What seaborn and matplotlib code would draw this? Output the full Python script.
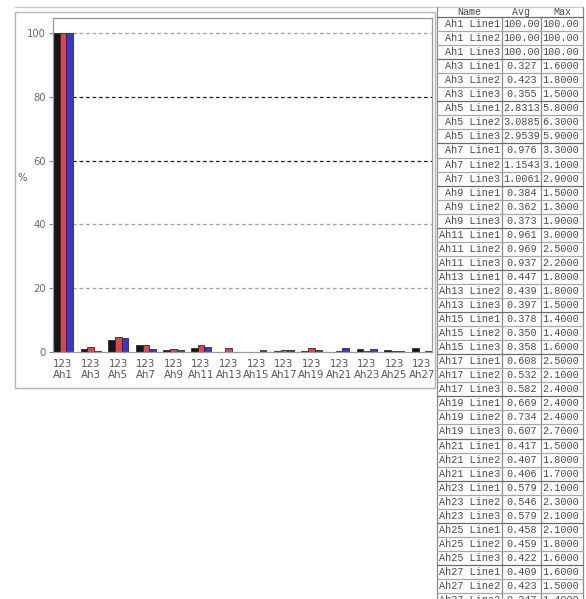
import matplotlib
matplotlib.use("Agg")
import matplotlib.pyplot as plt
import seaborn as sns
import pandas as pd
from matplotlib.lines import Line2D
from matplotlib.patches import Rectangle

# ---------------- data ----------------
harmonics = ["Ah1", "Ah3", "Ah5", "Ah7", "Ah9", "Ah11", "Ah13",
             "Ah15", "Ah17", "Ah19", "Ah21", "Ah23", "Ah25", "Ah27"]
lines = ["Line1", "Line2", "Line3"]

bar_line1 = [100, 0.85, 3.7, 2.2, 0.7, 1.4, 0.1, 0.1, 0.4, 0.2, 0.1, 1.0, 0.7, 1.3]
bar_line2 = [100, 1.5, 4.7, 2.2, 1.0, 2.2, 1.3, 0.1, 0.6, 1.3, 0.2, 0.2, 0.2, 0.1]
bar_line3 = [100, 0.3, 4.4, 1.0, 0.7, 1.5, 0.1, 0.7, 0.6, 0.6, 1.4, 0.9, 0.2, 0.2]

avg_line1 = ["100.00", "0.327", "2.8313", "0.976", "0.384", "0.961", "0.447",
             "0.378", "0.608", "0.669", "0.417", "0.579", "0.458", "0.409"]
avg_line2 = ["100.00", "0.423", "3.0885", "1.1543", "0.362", "0.969", "0.439",
             "0.350", "0.532", "0.734", "0.407", "0.546", "0.459", "0.423"]
avg_line3 = ["100.00", "0.355", "2.9539", "1.0061", "0.373", "0.937", "0.397",
             "0.358", "0.582", "0.607", "0.406", "0.579", "0.422", "0.347"]
max_line1 = ["100.00", "1.6000", "5.8000", "3.3000", "1.5000", "3.0000", "1.8000",
             "1.4000", "2.5000", "2.4000", "1.5000", "2.1000", "2.1000", "1.6000"]
max_line2 = ["100.00", "1.8000", "6.3000", "3.1000", "1.3000", "2.5000", "1.8000",
             "1.4000", "2.1000", "2.4000", "1.8000", "2.3000", "1.8000", "1.5000"]
max_line3 = ["100.00", "1.5000", "5.9000", "2.9000", "1.9000", "2.2000", "1.5000",
             "1.6000", "2.4000", "2.7000", "1.7000", "2.1000", "1.6000", "1.4000"]

table_header = ["Name", "Avg", "Max"]
y_ticks = [0, 20, 40, 60, 80, 100]

# ---------------- figure ----------------
W, H = 586, 599
sns.set_style("white")
plt.rcParams["font.family"] = ["DejaVu Sans"]
fig = plt.figure(figsize=(W / 100, H / 100), dpi=100)


def fx(x):
    return x / W


def fy(y):
    return 1 - y / H


# outer frame of chart panel
fig.add_artist(Rectangle((fx(15), fy(388)), fx(435) - fx(15), fy(12) - fy(388),
                         transform=fig.transFigure, fill=False,
                         edgecolor="#b5b5b5", linewidth=1.0))
fig.add_artist(Line2D([fx(15), fx(583)], [fy(7), fy(7)], transform=fig.transFigure,
                      color="#c8c8c8", linewidth=0.9))

ax = fig.add_axes([fx(53), fy(352), fx(432) - fx(53), fy(18) - fy(352)])

rows = []
for vals, ln in zip([bar_line1, bar_line2, bar_line3], lines):
    for h, v in zip(harmonics, vals):
        rows.append({"harmonic": h, "line": ln, "value": v})
df = pd.DataFrame(rows)

palette = {"Line1": "#151515", "Line2": "#d84848", "Line3": "#3838cc"}
sns.barplot(data=df, x="harmonic", y="value", hue="line", order=harmonics,
            hue_order=lines, palette=palette, width=0.73, dodge=True,
            edgecolor="#2a2a3a", linewidth=0.6, saturation=1, legend=False, ax=ax)

ax.set_xlim(-0.365, len(harmonics) - 1 + 0.365)
ax.set_ylim(0, 104.7)

for t in y_ticks[1:]:
    col = "#222222" if t in (60, 80) else "#a0a0a0"
    ax.axhline(t, color=col, linewidth=0.9, linestyle=(0, (3, 2.2)), zorder=0)

ax.set_yticks(y_ticks)
ax.set_yticklabels([str(t) for t in y_ticks], fontsize=7.2, color="#666666")
ax.set_xticks(range(len(harmonics)))
ax.set_xticklabels([f"123\n{h}" for h in harmonics], fontsize=7.4,
                   color="#555555", linespacing=1.15)
ax.tick_params(axis="x", length=0, pad=5)
ax.tick_params(axis="y", length=3, width=0.8, color="#888888", pad=2, left=True)
ax.set_xlabel("")
ax.set_ylabel("")
for s in ax.spines.values():
    s.set_color("#9a9a9a")
    s.set_linewidth(0.9)

fig.text(fx(22), fy(178), "%", fontsize=7.2, color="#555555", ha="center", va="center")

# ---------------- table ----------------
mono = ["Liberation Mono", "DejaVu Sans Mono"]
tcol = "#4a4a4a"
x_left, x_c1, x_c2, x_right = 437, 502, 541, 583
header_top, header_bot = 7, 17
row_h = 14.05

fig.text(fx((x_left + x_c1) / 2), fy(12), table_header[0], family=mono, fontsize=7.2,
         color=tcol, ha="center", va="center")
fig.text(fx((x_c1 + x_c2) / 2), fy(12), table_header[1], family=mono, fontsize=7.2,
         color=tcol, ha="center", va="center")
fig.text(fx((x_c2 + x_right) / 2), fy(12), table_header[2], family=mono, fontsize=7.2,
         color=tcol, ha="center", va="center")

avgs = [avg_line1, avg_line2, avg_line3]
maxs = [max_line1, max_line2, max_line3]
entries = []
for i, h in enumerate(harmonics):
    for j, ln in enumerate(lines):
        entries.append((f"{h} {ln}", avgs[j][i], maxs[j][i]))

n_rows = len(entries)
bottom = header_bot + row_h * n_rows
for x in (x_left, x_right):
    fig.add_artist(Line2D([fx(x), fx(x)], [fy(header_top), fy(bottom)],
                          transform=fig.transFigure, color="#8a8a8a", linewidth=0.9))
for x in (x_c1, x_c2):
    fig.add_artist(Line2D([fx(x), fx(x)], [fy(header_bot), fy(bottom)],
                          transform=fig.transFigure, color="#8a8a8a", linewidth=0.9))

for k, (name, av, mx) in enumerate(entries):
    top = header_bot + row_h * k
    yc = top + row_h / 2
    lc = "#6a6a6a" if k % 3 == 0 else "#a8a8a8"
    fig.add_artist(Line2D([fx(x_left), fx(x_right)], [fy(top), fy(top)],
                          transform=fig.transFigure, color=lc, linewidth=0.9))
    fig.text(fx(x_c1 - 2), fy(yc), name, family=mono, fontsize=7.3, color=tcol,
             ha="right", va="center")
    fig.text(fx((x_c1 + x_c2) / 2 + 0.5), fy(yc), av, family=mono, fontsize=7.3,
             color=tcol, ha="center", va="center")
    fig.text(fx(x_c2 + 1.5), fy(yc), mx, family=mono, fontsize=7.3, color=tcol,
             ha="left", va="center")

fig.savefig("out.png", dpi=100)
